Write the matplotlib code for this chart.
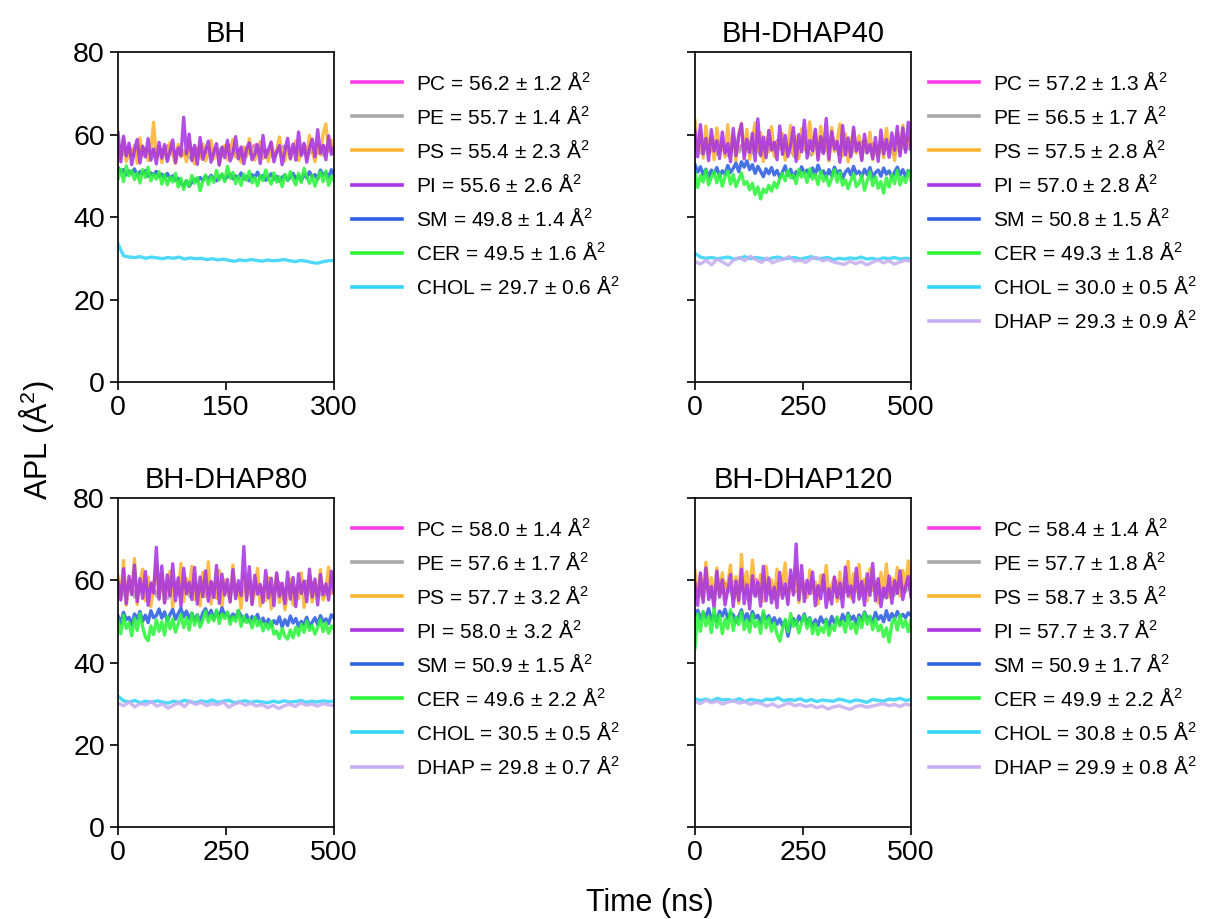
import numpy as np
import matplotlib
matplotlib.use("Agg")
import matplotlib.pyplot as plt

plt.rcParams["font.family"] = ["Liberation Sans", "DejaVu Sans"]
plt.rcParams["mathtext.fontset"] = "custom"
plt.rcParams["mathtext.rm"] = "Liberation Sans"
plt.rcParams["mathtext.it"] = "Liberation Sans:italic"

# ---- data (APL in A^2, sampled along each trajectory) ----
lipids = ["PC", "PE", "PS", "PI", "SM", "CER", "CHOL", "DHAP"]
colors = ["#ff3de8", "#a8a8a8", "#fbb430", "#a735e3", "#2d5fe3", "#2cf53a", "#35d4fb", "#c8aef0"]

systems = ["BH", "BH-DHAP40", "BH-DHAP80", "BH-DHAP120"]
sim_length = [300, 500, 500, 500]
xticks = [[0, 150, 300], [0, 250, 500], [0, 250, 500], [0, 250, 500]]

means = [
    [56.2, 55.7, 55.4, 55.6, 49.8, 49.5, 29.7],
    [57.2, 56.5, 57.5, 57.0, 50.8, 49.3, 30.0, 29.3],
    [58.0, 57.6, 57.7, 58.0, 50.9, 49.6, 30.5, 29.8],
    [58.4, 57.7, 58.7, 57.7, 50.9, 49.9, 30.8, 29.9],
]
stds = [
    [1.2, 1.4, 2.3, 2.6, 1.4, 1.6, 0.6],
    [1.3, 1.7, 2.8, 2.8, 1.5, 1.8, 0.5, 0.9],
    [1.4, 1.7, 3.2, 3.2, 1.5, 2.2, 0.5, 0.7],
    [1.4, 1.8, 3.5, 3.7, 1.7, 2.2, 0.5, 0.8],
]

# BH
bh_pc = [57.5, 55.8, 56.9, 55.2, 57.0, 56.1, 55.4, 56.8, 55.9, 57.3, 55.6, 56.4, 55.1, 56.9, 56.0, 57.2, 55.7, 56.6, 55.3, 56.8,
         57.4, 55.9, 56.3, 55.0, 56.7, 57.6, 55.8, 56.2, 54.9, 56.5, 57.1, 55.6, 56.9, 55.4, 57.0, 56.2, 55.5, 57.3, 56.0, 56.6]
bh_pe = [57.8, 55.2, 56.4, 54.8, 56.9, 55.0, 56.3, 54.6, 55.9, 57.0, 54.9, 56.2, 55.4, 54.3, 56.5, 55.1, 56.8, 54.7, 55.8, 57.1,
         55.3, 56.0, 54.5, 56.6, 55.2, 57.3, 55.0, 55.9, 54.4, 56.3, 57.2, 55.5, 56.1, 54.8, 56.7, 55.6, 57.4, 55.0, 56.9, 57.3]
bh_ps = [57.8, 54.2, 58.9, 53.5, 56.1, 55.0, 57.4, 53.1, 59.2, 54.8, 56.6, 53.7, 55.9, 63.0, 54.4, 57.1, 53.2, 56.5, 54.0, 58.1,
         55.3, 53.0, 57.6, 54.6, 56.2, 53.4, 58.4, 55.1, 52.9, 56.9, 54.3, 57.7, 53.6, 55.5, 58.6, 54.1, 56.8, 52.8, 55.7, 57.3,
         53.9, 56.0, 58.8, 54.5, 55.2, 53.3, 57.0, 54.7, 59.0, 55.4, 53.8, 56.4, 58.3, 54.2, 55.8, 53.5, 57.9, 54.9, 56.3, 59.4,
         55.0, 53.6, 57.2, 54.0, 56.7, 58.5, 53.7, 55.6, 57.5, 54.3, 59.8, 55.9, 53.4, 57.8, 55.1, 60.2, 62.6, 56.1, 58.7, 55.5]
bh_pi = [60.5, 53.4, 59.6, 54.8, 57.9, 52.7, 56.3, 58.8, 53.1, 57.2, 54.6, 59.0, 53.8, 56.5, 52.9, 58.1, 54.3, 57.6, 53.5, 55.9,
         58.7, 53.2, 56.8, 54.9, 64.2, 55.3, 60.1, 53.7, 57.4, 52.8, 59.3, 54.0, 56.2, 58.4, 53.3, 55.7, 57.8, 52.6, 56.9, 54.4,
         58.6, 53.6, 55.4, 59.5, 54.1, 57.0, 52.9, 56.6, 58.0, 53.9, 55.2, 57.5, 53.0, 59.8, 54.5, 56.4, 58.2, 53.4, 55.8, 57.3,
         52.7, 56.1, 59.1, 54.2, 57.7, 53.8, 60.6, 55.0, 57.9, 53.3, 56.7, 58.9, 54.6, 61.2, 55.5, 57.4, 53.9, 59.7, 55.2, 56.8]
bh_sm = [52.0, 50.8, 51.5, 50.2, 51.2, 50.6, 51.7, 50.1, 51.0, 50.5, 51.3, 49.9, 50.7, 50.2, 51.1, 49.8, 50.4, 49.6, 50.6, 49.3,
         50.0, 48.9, 49.4, 48.1, 47.6, 48.8, 47.4, 48.5, 49.2, 48.7, 49.6, 48.9, 49.9, 49.2, 50.1, 49.4, 48.8, 49.7, 50.2, 49.1,
         49.8, 50.4, 49.3, 50.0, 49.5, 50.7, 49.2, 49.9, 48.8, 50.3, 49.6, 50.9, 49.4, 50.1, 48.9, 49.7, 50.5, 49.1, 49.9, 48.7,
         49.6, 50.2, 48.9, 49.8, 50.6, 49.3, 50.0, 48.8, 50.4, 49.5, 51.0, 49.7, 50.3, 49.2, 51.4, 50.1, 50.8, 49.6, 51.5, 50.2]
bh_cer = [49.3, 51.6, 48.6, 52.4, 50.0, 51.2, 49.1, 50.7, 48.3, 51.5, 49.6, 52.1, 48.8, 50.4, 49.2, 51.0, 48.0, 50.3, 47.8, 49.7,
          48.5, 50.6, 47.3, 49.4, 46.7, 48.9, 47.5, 50.1, 48.2, 49.6, 46.4, 48.7, 50.2, 47.9, 49.8, 48.4, 51.3, 49.0, 50.5, 48.6,
          52.3, 49.4, 50.8, 48.1, 49.9, 47.7, 50.4, 48.9, 51.1, 48.3, 49.6, 47.6, 50.0, 48.8, 51.4, 49.3, 48.0, 50.7, 48.5, 49.8,
          47.4, 50.3, 48.9, 51.0, 49.2, 47.8, 50.6, 48.4, 51.8, 49.7, 48.2, 50.1, 47.5, 49.5, 50.9, 48.6, 51.2, 47.7, 49.9, 48.8]
bh_chol = [33.5, 30.6, 30.3, 30.2, 30.4, 30.0, 30.3, 30.1, 29.9, 30.2, 30.0, 30.3, 29.8, 30.1, 29.9, 30.0, 29.7, 29.9, 29.6, 29.8,
           29.5, 29.3, 29.6, 29.4, 29.7, 29.5, 29.3, 29.6, 29.4, 29.5, 29.7, 29.4, 29.2, 29.5, 29.3, 29.0, 28.8, 29.2, 29.4, 29.5]

# BH-DHAP40
d40_pc = [58.5, 56.8, 57.9, 56.1, 58.2, 57.0, 55.9, 57.8, 56.6, 58.4, 56.3, 57.5, 55.8, 58.0, 57.1, 58.6, 56.4, 57.7, 56.0, 58.1,
          57.3, 56.5, 58.3, 55.9, 57.6, 58.8, 56.7, 57.4, 56.0, 57.9, 58.2, 56.3, 57.8, 56.6, 58.0, 57.2, 56.2, 58.5, 57.0, 57.6]
d40_pe = [58.7, 55.6, 57.4, 59.1, 55.2, 56.8, 54.9, 57.6, 55.8, 58.2, 55.1, 56.9, 54.7, 57.3, 56.0, 58.4, 55.4, 56.7, 54.6, 57.9,
          56.2, 55.0, 58.0, 55.7, 56.5, 58.6, 55.3, 57.1, 54.8, 56.9, 58.3, 55.5, 57.2, 54.9, 57.8, 56.4, 55.1, 58.1, 56.3, 57.0]
d40_ps = [63.5, 56.2, 60.8, 54.3, 62.1, 55.7, 59.4, 53.9, 61.6, 56.8, 58.3, 54.6, 62.4, 55.2, 60.0, 53.7, 59.8, 62.7, 55.4, 61.3,
          54.0, 58.9, 62.9, 56.1, 60.5, 53.5, 59.2, 55.8, 61.9, 54.7, 58.0, 56.6, 60.3, 53.8, 57.4, 62.2, 55.0, 59.6, 54.2, 61.4,
          56.4, 58.7, 63.1, 55.3, 60.9, 54.5, 62.0, 57.0, 59.1, 53.6, 61.7, 55.9, 58.4, 62.6, 54.8, 60.2, 53.4, 57.8, 61.1, 55.5,
          59.7, 54.1, 58.6, 56.3, 60.6, 53.9, 57.3, 55.1, 59.0, 54.4, 61.5, 56.0, 58.2, 53.7, 60.4, 55.6, 62.3, 57.1, 59.3, 56.5]
d40_pi = [60.8, 54.6, 62.4, 55.3, 59.1, 53.7, 61.2, 56.0, 58.5, 54.2, 60.6, 55.5, 57.8, 53.4, 61.5, 54.9, 59.7, 62.6, 54.1, 58.9,
          55.7, 60.3, 53.6, 63.8, 55.0, 59.4, 54.4, 61.0, 56.3, 58.1, 53.9, 62.1, 55.2, 59.8, 54.7, 57.5, 61.7, 53.5, 60.0, 55.8,
          63.5, 54.3, 58.6, 56.1, 61.3, 53.8, 59.5, 55.4, 63.9, 54.0, 60.7, 56.5, 58.3, 53.3, 62.2, 55.1, 59.2, 54.6, 61.8, 56.0,
          58.0, 53.7, 60.1, 55.6, 57.6, 54.2, 59.3, 53.5, 61.1, 55.3, 58.8, 54.5, 60.4, 56.2, 62.0, 54.8, 61.6, 55.7, 63.0, 56.4]
d40_sm = [52.8, 50.9, 52.2, 50.3, 51.6, 49.7, 51.4, 50.6, 52.0, 49.9, 51.2, 50.4, 52.5, 50.8, 51.8, 53.1, 51.0, 53.4, 52.1, 53.6,
          51.5, 52.7, 50.6, 52.3, 51.1, 49.8, 51.7, 50.5, 52.0, 50.2, 51.3, 49.6, 50.9, 52.4, 50.1, 51.6, 49.5, 51.0, 50.4, 52.2,
          50.7, 51.4, 49.9, 51.9, 50.3, 52.6, 50.8, 51.2, 49.7, 51.5, 50.0, 52.1, 50.6, 51.3, 49.4, 50.9, 51.7, 50.2, 52.3, 50.5,
          51.1, 49.8, 51.6, 50.3, 52.0, 49.6, 50.8, 51.4, 49.9, 51.9, 50.4, 51.2, 49.7, 50.9, 52.1, 50.2, 51.5, 49.9, 51.3, 50.7]
d40_cer = [50.8, 47.2, 50.1, 48.5, 51.4, 47.8, 49.6, 51.0, 48.3, 50.5, 47.5, 49.9, 51.2, 48.0, 50.3, 47.4, 49.1, 50.7, 47.9, 48.6,
           46.6, 48.2, 45.5, 47.3, 44.4, 46.8, 45.9, 47.7, 46.3, 48.4, 47.1, 49.3, 50.6, 48.8, 51.3, 49.5, 50.2, 48.1, 51.6, 49.7,
           50.9, 48.4, 51.7, 49.2, 50.4, 47.9, 51.1, 48.7, 50.0, 47.6, 49.4, 51.5, 48.5, 50.8, 47.7, 49.0, 46.9, 48.9, 50.5, 47.4,
           48.2, 50.1, 46.5, 48.8, 51.0, 47.6, 49.8, 47.0, 48.6, 45.8, 49.5, 47.3, 50.3, 48.1, 51.3, 47.8, 49.7, 48.4, 51.2, 49.0]
d40_chol = [31.2, 30.3, 30.0, 30.2, 29.9, 30.1, 30.3, 29.8, 30.0, 30.4, 29.9, 30.2, 30.0, 29.7, 30.1, 30.3, 29.9, 30.0, 30.2, 29.8,
            30.1, 30.4, 29.9, 30.0, 30.2, 29.7, 30.0, 29.8, 30.1, 29.9, 30.3, 29.8, 30.0, 29.7, 30.1, 29.9, 30.2, 29.8, 30.0, 29.9]
d40_dhap = [29.2, 28.6, 29.5, 28.4, 29.8, 29.1, 28.3, 29.6, 30.2, 29.4, 30.5, 29.7, 29.0, 30.1, 28.9, 29.5, 29.8, 30.4, 29.3, 29.6,
            29.0, 29.9, 30.2, 29.4, 29.7, 29.1, 28.8, 28.5, 29.3, 28.7, 29.2, 28.4, 29.0, 29.6, 28.9, 29.4, 28.6, 29.1, 29.5, 29.3]

# BH-DHAP80
d80_pc = [59.4, 57.2, 58.8, 56.9, 59.1, 57.5, 58.3, 56.6, 59.6, 57.8, 58.9, 56.8, 58.2, 59.7, 57.1, 58.6, 56.7, 59.3, 57.6, 58.4,
          56.9, 59.0, 57.4, 58.7, 56.5, 59.2, 57.9, 58.1, 56.8, 59.5, 57.3, 58.5, 56.6, 58.9, 57.7, 59.4, 56.9, 58.3, 57.5, 58.8]
d80_pe = [59.3, 56.4, 58.7, 55.9, 58.2, 57.0, 59.5, 56.1, 58.0, 55.6, 59.0, 57.3, 58.6, 56.0, 59.2, 56.8, 58.4, 55.8, 57.7, 59.4,
          56.5, 58.1, 55.7, 59.1, 57.2, 58.8, 56.3, 59.6, 57.0, 58.3, 55.9, 58.9, 56.6, 57.9, 59.8, 56.2, 58.5, 55.8, 57.6, 58.4]
d80_ps = [61.0, 55.4, 64.8, 53.9, 60.2, 56.7, 65.3, 54.1, 59.5, 62.7, 55.0, 60.8, 53.6, 58.4, 63.9, 55.8, 61.6, 54.5, 57.9, 62.2,
          53.3, 59.7, 56.4, 64.1, 54.8, 60.5, 57.2, 63.4, 55.3, 58.9, 53.8, 61.9, 56.0, 64.5, 54.2, 59.3, 55.6, 62.4, 53.5, 60.1,
          57.6, 54.9, 63.7, 56.2, 58.7, 53.2, 61.3, 55.7, 59.9, 54.3, 57.0, 62.9, 53.7, 58.2, 55.1, 60.7, 53.0, 57.5, 61.4, 54.6,
          59.0, 52.8, 56.6, 60.3, 54.0, 58.6, 55.5, 61.8, 53.4, 57.8, 60.9, 54.7, 59.4, 56.1, 62.6, 55.2, 58.1, 63.2, 56.8, 61.5]
d80_pi = [59.6, 55.2, 62.8, 54.3, 61.0, 56.5, 63.7, 54.8, 60.4, 55.6, 62.1, 53.9, 59.2, 56.9, 68.0, 55.4, 63.5, 54.5, 61.3, 56.2,
          64.0, 55.0, 60.6, 53.7, 62.9, 56.7, 59.4, 55.3, 63.1, 54.2, 60.8, 56.0, 62.3, 54.9, 59.7, 55.8, 63.6, 54.4, 61.5, 56.4,
          60.2, 54.7, 62.6, 55.5, 59.9, 56.3, 68.2, 55.1, 63.3, 54.1, 61.2, 56.6, 59.0, 54.6, 62.4, 55.7, 60.5, 53.8, 61.8, 56.1,
          59.3, 54.3, 62.0, 55.4, 60.7, 53.6, 61.6, 56.8, 59.8, 54.8, 62.7, 55.9, 60.3, 54.0, 61.4, 56.5, 59.1, 55.2, 62.2, 56.9]
d80_sm = [51.3, 49.6, 52.2, 50.4, 51.0, 49.2, 51.8, 50.6, 52.4, 50.0, 51.5, 49.7, 52.6, 50.9, 51.4, 53.0, 50.8, 52.3, 50.2, 51.7,
          52.9, 50.5, 51.9, 53.2, 51.1, 52.5, 50.7, 52.0, 50.3, 51.6, 49.8, 52.1, 53.1, 51.2, 52.7, 50.6, 52.4, 51.0, 53.3, 51.5,
          52.0, 50.4, 51.8, 50.9, 52.6, 51.3, 50.1, 51.6, 49.9, 51.2, 50.3, 51.7, 49.5, 50.8, 49.2, 50.5, 48.9, 50.2, 49.4, 51.1,
          48.6, 50.4, 49.0, 51.3, 49.6, 50.7, 48.8, 50.0, 49.3, 51.0, 48.7, 49.8, 50.9, 49.2, 51.4, 49.9, 50.6, 49.5, 51.6, 50.8]
d80_cer = [50.2, 47.0, 51.5, 48.3, 49.6, 46.5, 50.8, 47.8, 51.9, 48.7, 46.2, 45.3, 48.9, 46.8, 50.4, 47.6, 49.9, 46.7, 51.2, 48.2,
           50.6, 47.4, 49.4, 51.7, 48.5, 50.9, 47.9, 52.0, 49.1, 51.4, 48.6, 50.3, 52.5, 49.8, 51.6, 50.1, 52.8, 49.5, 51.8, 50.7,
           52.3, 49.3, 51.1, 50.0, 52.7, 48.8, 51.3, 49.7, 50.5, 48.4, 51.0, 48.9, 50.2, 47.7, 49.5, 48.1, 50.0, 46.9, 47.6, 45.8,
           48.3, 46.4, 45.7, 47.9, 46.0, 48.6, 46.6, 49.3, 47.3, 50.1, 47.8, 49.0, 46.9, 48.5, 50.4, 47.5, 49.7, 47.1, 48.9, 48.2]
d80_chol = [31.8, 30.7, 30.4, 30.8, 30.2, 30.6, 30.3, 30.7, 30.4, 30.1, 30.6, 30.3, 30.8, 30.5, 30.2, 30.7, 30.4, 30.9, 30.3, 30.6,
            30.8, 30.2, 30.5, 30.7, 30.3, 30.6, 30.4, 30.2, 30.6, 30.3, 30.7, 30.4, 30.5, 30.8, 30.3, 30.6, 30.4, 30.7, 30.5, 30.6]
d80_dhap = [30.1, 29.5, 30.4, 29.2, 30.0, 29.7, 30.5, 29.4, 29.9, 28.9, 29.6, 30.2, 29.3, 30.6, 29.8, 30.3, 29.5, 30.0, 29.7, 30.4,
            29.1, 29.9, 30.3, 29.6, 30.1, 29.4, 29.8, 29.0, 29.6, 28.8, 29.5, 29.9, 29.3, 30.2, 29.6, 29.9, 29.4, 30.0, 29.7, 29.5]

# BH-DHAP120
d120_pc = [59.8, 57.6, 59.2, 57.1, 58.9, 60.0, 57.4, 58.6, 57.0, 59.5, 58.1, 60.2, 57.3, 58.8, 56.9, 59.4, 58.0, 57.5, 59.7, 57.8,
           58.5, 60.1, 57.2, 59.0, 57.6, 58.3, 59.9, 57.1, 58.7, 57.9, 59.6, 56.8, 58.4, 59.3, 57.5, 58.9, 57.0, 59.1, 58.2, 59.5]
d120_pe = [59.6, 56.2, 58.9, 55.8, 59.4, 57.0, 58.3, 55.6, 59.8, 56.7, 58.1, 56.0, 59.2, 57.4, 55.7, 58.6, 56.5, 59.5, 57.1, 58.4,
           55.9, 58.8, 56.3, 59.9, 57.2, 58.0, 55.5, 59.1, 56.8, 58.5, 56.1, 59.3, 57.5, 58.2, 55.8, 58.7, 56.4, 59.0, 57.3, 58.6]
d120_ps = [62.3, 56.0, 61.5, 55.2, 64.4, 57.1, 60.6, 54.7, 63.0, 56.5, 61.8, 55.6, 59.3, 63.7, 55.9, 60.9, 54.4, 66.3, 57.4, 62.1,
           55.3, 64.9, 58.2, 56.6, 61.4, 54.9, 63.5, 57.8, 60.1, 55.5, 62.7, 56.3, 59.0, 64.2, 55.1, 61.0, 57.0, 63.3, 54.6, 60.4,
           58.6, 55.8, 62.5, 56.9, 59.6, 54.2, 61.2, 57.5, 63.6, 55.4, 58.8, 60.7, 54.8, 62.0, 56.2, 59.4, 64.6, 55.7, 61.6, 57.3,
           63.9, 56.4, 60.3, 55.0, 62.8, 57.7, 59.8, 54.5, 61.9, 56.8, 64.0, 55.9, 60.5, 57.2, 63.1, 56.1, 62.4, 58.0, 64.7, 59.2]
d120_pi = [59.2, 53.9, 61.8, 54.6, 63.0, 55.3, 58.5, 53.2, 62.2, 55.9, 60.1, 54.0, 57.6, 61.4, 53.6, 59.8, 55.1, 62.7, 54.3, 58.9,
           53.0, 61.1, 56.2, 59.5, 53.7, 63.4, 55.0, 60.6, 54.5, 58.3, 53.3, 61.9, 55.6, 59.1, 54.1, 62.5, 56.4, 68.8, 55.2, 63.6,
           54.8, 60.0, 56.7, 62.0, 53.8, 58.7, 55.5, 61.3, 53.4, 57.9, 54.2, 60.8, 55.8, 59.3, 53.5, 63.2, 56.1, 58.6, 54.7, 62.9,
           55.4, 59.7, 53.9, 61.6, 56.3, 64.1, 55.0, 60.4, 53.6, 58.1, 55.7, 61.0, 54.4, 59.9, 56.8, 62.3, 55.3, 58.4, 60.9, 56.0]
d120_sm = [51.5, 52.7, 50.6, 52.2, 51.0, 53.1, 50.4, 51.8, 49.9, 52.5, 51.3, 53.0, 50.7, 52.1, 51.6, 49.8, 51.2, 52.8, 50.3, 51.9,
           50.0, 52.4, 50.8, 51.5, 49.7, 52.0, 50.5, 51.4, 49.6, 50.9, 49.3, 50.6, 48.9, 50.2, 46.4, 49.5, 50.7, 49.1, 51.3, 50.0,
           51.8, 49.4, 50.9, 48.6, 50.4, 49.0, 51.1, 49.7, 50.5, 48.8, 51.2, 49.6, 50.8, 49.2, 51.7, 50.1, 52.0, 50.4, 51.3, 49.5,
           51.6, 50.2, 52.3, 50.7, 51.1, 49.8, 52.2, 50.5, 51.4, 49.9, 52.6, 50.3, 51.9, 50.6, 52.4, 51.0, 51.7, 50.9, 52.1, 51.4]
d120_cer = [43.5, 51.8, 47.6, 52.4, 48.9, 51.2, 47.3, 53.1, 48.5, 51.5, 47.0, 50.6, 48.2, 52.8, 47.8, 51.0, 49.2, 52.3, 48.0, 50.4,
            47.4, 51.7, 48.7, 50.1, 47.1, 52.6, 48.4, 50.8, 47.6, 49.6, 46.9, 45.2, 48.1, 50.5, 47.5, 51.9, 48.8, 50.2, 47.2, 49.8,
            51.4, 48.3, 50.7, 47.0, 49.4, 46.8, 48.6, 47.3, 50.3, 46.6, 49.0, 47.8, 51.1, 48.9, 50.0, 47.4, 51.6, 48.2, 49.7, 47.1,
            50.9, 48.5, 52.0, 49.3, 51.3, 48.0, 50.6, 47.7, 49.1, 46.3, 48.4, 45.0, 49.5, 50.8, 47.9, 51.5, 48.6, 50.2, 47.5, 50.3]
d120_chol = [31.2, 30.8, 31.1, 30.6, 31.3, 30.9, 31.0, 30.7, 31.2, 30.5, 31.0, 30.8, 30.6, 31.1, 30.9, 31.4, 30.7, 31.0, 30.8, 31.2,
             30.6, 31.0, 30.5, 30.9, 30.7, 30.6, 31.1, 30.8, 30.4, 30.9, 30.7, 30.3, 31.0, 30.8, 30.6, 31.1, 30.9, 31.3, 30.8, 31.0]
d120_dhap = [30.5, 30.0, 30.8, 30.2, 30.6, 29.9, 30.4, 30.7, 30.1, 30.5, 29.8, 30.3, 30.0, 29.4, 29.9, 29.2, 29.7, 30.2, 29.5, 29.8,
             29.3, 29.6, 29.0, 29.4, 28.7, 29.2, 29.5, 29.0, 28.6, 29.3, 29.6, 29.1, 29.4, 29.7, 30.0, 29.5, 29.8, 29.3, 29.9, 29.6]

series = [
    [bh_pc, bh_pe, bh_ps, bh_pi, bh_sm, bh_cer, bh_chol],
    [d40_pc, d40_pe, d40_ps, d40_pi, d40_sm, d40_cer, d40_chol, d40_dhap],
    [d80_pc, d80_pe, d80_ps, d80_pi, d80_sm, d80_cer, d80_chol, d80_dhap],
    [d120_pc, d120_pe, d120_ps, d120_pi, d120_sm, d120_cer, d120_chol, d120_dhap],
]

# ---- layout ----
fig = plt.figure(figsize=(12.22, 9.19), dpi=100)
positions = [
    [0.0966, 0.5843, 0.1768, 0.359],
    [0.5687, 0.5843, 0.1768, 0.359],
    [0.0966, 0.1001, 0.1768, 0.358],
    [0.5687, 0.1001, 0.1768, 0.358],
]

for k, name in enumerate(systems):
    ax = fig.add_axes(positions[k])
    for j, vals in enumerate(series[k]):
        t = np.linspace(0, sim_length[k], len(vals))
        label = f"{lipids[j]} = {means[k][j]:.1f} ± {stds[k][j]:.1f} Å$^2$"
        ax.plot(t, vals, color=colors[j], lw=2.4, alpha=0.88, label=label)
    ax.set_xlim(0, sim_length[k])
    ax.set_ylim(0, 80)
    ax.set_xticks(xticks[k])
    ax.set_yticks([0, 20, 40, 60, 80])
    ax.set_title(name, fontsize=21, pad=7)
    ax.tick_params(labelsize=20.5, width=1.2, length=6)
    if k % 2 == 1:
        ax.set_yticklabels([])
    for sp in ax.spines.values():
        sp.set_linewidth(1.2)
    leg = ax.legend(loc="upper left", bbox_to_anchor=(1.045, 0.969), frameon=False,
                    fontsize=15, handlelength=2.4, handletextpad=0.67,
                    labelspacing=0.53, borderaxespad=0)
    for h in leg.get_lines():
        h.set_linewidth(2.6)
        h.set_alpha(1.0)

fig.text(0.03, 0.521, "APL (Å$^2$)", fontsize=22, rotation=90, ha="center", va="center")
fig.text(0.532, 0.017, "Time (ns)", fontsize=22, ha="center", va="center")

fig.savefig("out.png", dpi=100)
